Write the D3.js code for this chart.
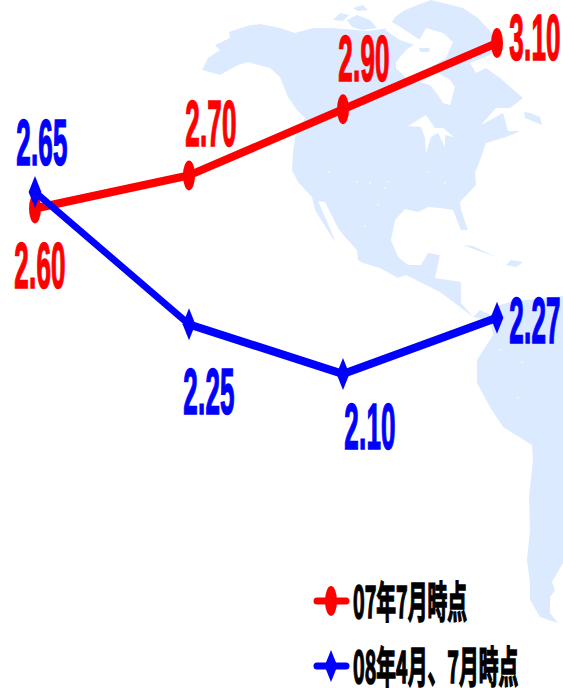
<!DOCTYPE html>
<html lang="ja">
<head>
  <meta charset="UTF-8">
  <title>2.60 - 3.10</title>
  <script src="https://d3js.org/d3.v7.min.js"></script>
  <style>
    html, body { margin: 0; padding: 0; background: #fff; }
    svg { display: block; }
    .num { font-family: "Liberation Sans", Arial, sans-serif; font-weight: 700; font-size: 65px; letter-spacing: 0.5px; text-anchor: middle; }
    .leg { font-family: "Noto Sans CJK JP", sans-serif; font-weight: 700; font-size: 43px; fill: #000; stroke: #000; stroke-width: 1.6px; }
  </style>
</head>
<body>
  <svg width="563" height="688"></svg>

  <script>
    // values
    const steps = [0, 1, 2, 3];
    const red07 = [2.60, 2.70, 2.90, 3.10];
    const blue08 = [2.65, 2.25, 2.10, 2.27];
    const legendNames = ["07年7月時点", "08年4月、7月時点"];

    // label offsets from their point, the labels are placed by hand in the original
    const redOffsets = [[5, 80], [22, -29], [21, -28], [38, 17]];
    const blueOffsets = [[7, -27], [20, 90], [27, 75], [38, 25]];

    // background map
    const landMain = [[229,32],[247,26],[260,24],[280,28],[295,33],[313,28],[332,28],[368,31],[388,28],[395,17],[405,10],[415,6],[431,0],[463,8],[478,18],[491,32],[500,47],[490,55],[470,63],[476,73],[486,68],[500,78],[523,98],[510,108],[496,108],[481,125],[503,113],[508,131],[520,131],[506,137],[486,143],[480,160],[475,173],[476,185],[460,202],[461,210],[468,230],[461,230],[453,210],[440,208],[428,207],[418,212],[405,209],[395,220],[391,240],[398,257],[408,265],[421,265],[428,253],[440,255],[435,278],[461,282],[461,303],[473,317],[480,310],[491,315],[500,305],[510,302],[563,296],[563,563],[552,582],[555,590],[550,597],[550,613],[558,623],[540,617],[530,600],[530,583],[527,560],[530,530],[529,497],[533,460],[532,445],[503,427],[490,407],[477,383],[477,360],[493,335],[490,320],[478,318],[473,317],[460,307],[440,292],[406,275],[398,278],[380,268],[363,263],[358,260],[357,250],[345,237],[338,228],[325,202],[318,201],[334,238],[335,242],[315,210],[312,197],[298,182],[292,170],[293,153],[295,137],[305,118],[297,110],[288,97],[280,77],[270,68],[248,62],[238,65],[220,75],[202,70],[208,58],[220,50],[215,45],[230,38]];
    const landIslands = [
      [[333,20],[340,13],[349,15],[343,21]],
      [[347,20],[357,15],[370,20],[377,28],[363,30],[352,27]],
      [[353,8],[363,5],[368,10],[358,11]],
      [[524,112],[530,113],[540,117],[542,125],[525,118]],
      [[463,245],[473,246],[496,257],[476,250]],
      [[506,265],[511,260],[523,262],[516,267]]
    ];
    const waterPatches = [
      [[396,62],[406,50],[418,42],[426,28],[443,33],[453,42],[446,58],[430,68],[450,80],[455,87],[450,105],[443,103],[438,95],[430,85],[420,82],[406,78],[396,68]],
      [[385,30],[392,22],[405,30],[420,40],[415,45],[400,40]],
      [[408,126],[426,115],[435,128],[443,128],[454,137],[445,135],[445,147],[438,133],[431,137],[426,153],[425,138],[421,127]]
    ];
    const baffinLake = [[419,48],[430,48],[429,52],[420,52]];
    const cityDots = [[357,182],[370,183],[385,188],[365,226],[329,172],[378,205],[428,172],[445,183],[388,182],[500,350],[522,362],[518,398]];

    const landColor = "#dbeaff";
    const redColor = "#ff0000";
    const blueColor = "#0000ff";
    const squeeze = 0.4; // the whole chart is stretched narrow, marks and digits alike

    const svg = d3.select("svg");
    const poly = d3.line().curve(d3.curveLinearClosed);

    // map
    const map = svg.append("g");
    map.selectAll(".land").data([landMain, ...landIslands]).join("path")
      .attr("class", "land").attr("fill", landColor).attr("d", poly);
    map.selectAll(".water").data(waterPatches).join("path")
      .attr("class", "water").attr("fill", "#fff").attr("d", poly);
    map.append("path").attr("fill", landColor).attr("d", poly(baffinLake));
    map.selectAll("circle").data(cityDots).join("circle")
      .attr("cx", d => d[0]).attr("cy", d => d[1]).attr("r", 1).attr("fill", "#eef8ff");

    const x = d3.scalePoint().domain(steps).range([35 / squeeze, 497 / squeeze]);
    const y = d3.scaleLinear().domain([2.1, 3.1]).range([374, 43]);

    const plot = svg.append("g").attr("transform", `scale(${squeeze},1)`);
    const line = d3.line().x((d, i) => x(steps[i])).y(d => y(d));
    const circleMark = d3.symbol(d3.symbolCircle, Math.PI * 15 * 15);
    const diamondMark = d3.symbol(d3.symbolSquare, 512);

    function drawSeries(values, color, mark, turn) {
      plot.append("path").datum(values)
        .attr("fill", "none").attr("stroke", color).attr("stroke-width", 8.5)
        .attr("d", line);
      plot.selectAll(null).data(values).join("path")
        .attr("fill", color).attr("d", mark)
        .attr("transform", (d, i) => `translate(${x(steps[i])},${y(d)}) rotate(${turn})`);
    }

    function drawLabels(values, color, offsets) {
      plot.selectAll(null).data(values).join("text")
        .attr("class", "num")
        .attr("fill", color).attr("stroke", color).attr("stroke-width", 1.6)
        .attr("x", (d, i) => x(steps[i]) + offsets[i][0] / squeeze)
        .attr("y", (d, i) => y(d) + offsets[i][1])
        .text(d => d.toFixed(2));
    }

    drawSeries(red07, redColor, circleMark, 0);
    drawSeries(blue08, blueColor, diamondMark, 45);
    drawLabels(red07, redColor, redOffsets);
    drawLabels(blue08, blueColor, blueOffsets);

    // legend
    const legendY = d3.scalePoint().domain(legendNames).range([601, 666]);
    const legend = svg.append("g");
    legendNames.forEach((name, i) => {
      const color = i === 0 ? redColor : blueColor;
      const row = legend.append("g").attr("transform", `translate(0,${legendY(name)})`);
      row.append("line").attr("x1", 317).attr("x2", 346)
        .attr("stroke", color).attr("stroke-width", 7).attr("stroke-linecap", "round");
      row.append("path").attr("fill", color)
        .attr("d", i === 0 ? circleMark() : diamondMark())
        .attr("transform", `translate(331,0) scale(${squeeze},1) rotate(${i === 0 ? 0 : 45})`);
      row.append("text").attr("class", "leg")
        .attr("transform", "translate(353,17) scale(0.46,1)")
        .text(name);
    });
  </script>
</body>
</html>
